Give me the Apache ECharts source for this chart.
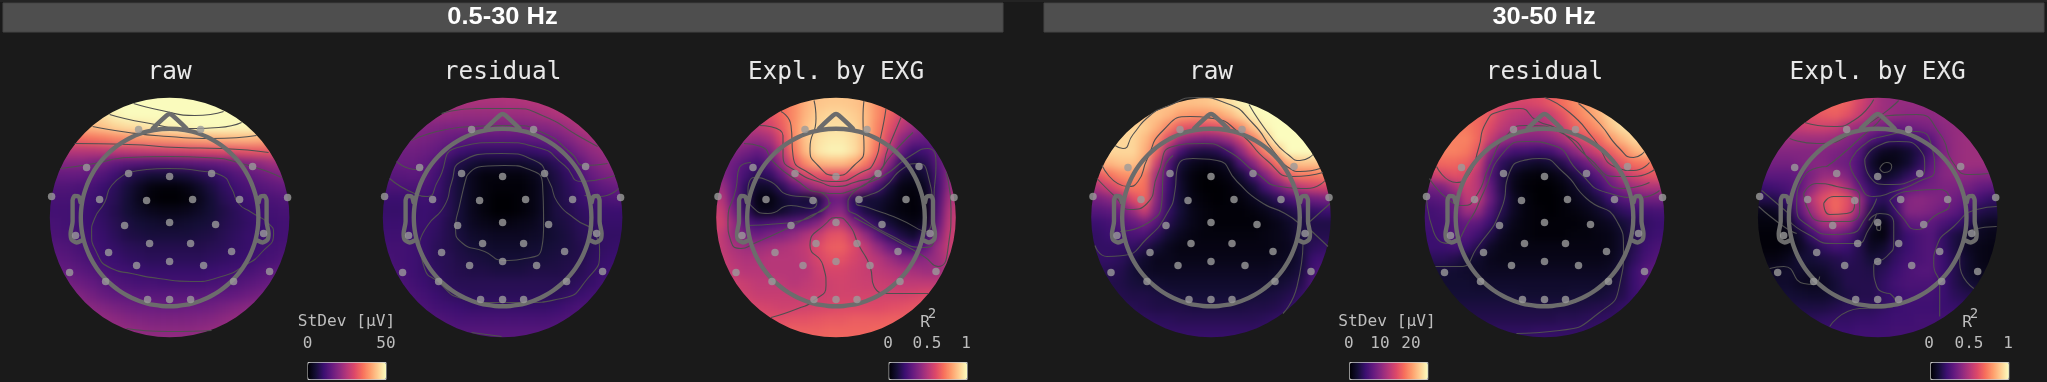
<!DOCTYPE html>
<html><head><meta charset="utf-8">
<style>html,body{margin:0;padding:0;background:#1a1a1a}#c{width:2047px;height:382px}</style>
<script src="https://cdn.jsdelivr.net/npm/echarts@6/dist/echarts.min.js"></script>
</head><body><div id="c"></div>
<script>
// Field values: percent of each colour range on a 22x22 grid (top row first).
const rawLow=[
[92,92,92,94,96,98,100,100,100,100,100,100,100,100,100,100,100,100,98,96,94,92],
[88,88,88,90,92,96,100,100,100,100,100,100,100,100,100,100,100,100,100,98,94,90],
[86,86,86,88,90,94,98,100,100,100,100,100,100,100,100,100,100,100,100,98,94,90],
[78,78,80,84,86,88,91,93,94,96,97,98,99,100,100,100,99,99,98,96,92,90],
[66,66,66,68,70,72,74,76,77,78,79,80,81,82,83,84,85,85,84,82,80,78],
[50,50,50,50,50,51,52,53,54,55,56,57,58,59,60,61,62,63,64,64,62,62],
[38,38,38,38,36,33,29,27,26,25,25,26,27,28,29,31,34,37,40,44,46,46],
[30,30,30,30,28,25,21,15,12,10,10,10,11,14,17,21,25,28,31,34,37,38],
[25,25,25,24,23,20,16,11,6,2,1,1,3,7,12,17,21,24,26,28,30,30],
[23,23,23,22,21,18,15,10,5,1,0,0,1,5,10,15,18,21,23,24,25,25],
[22,22,22,21,20,17,14,10,7,5,4,4,5,7,10,13,16,19,21,22,23,23],
[23,23,22,21,20,18,15,12,10,9,8,8,9,10,11,14,16,18,20,21,22,22],
[24,24,23,22,21,19,16,13,12,11,11,11,11,12,13,15,17,19,20,21,22,22],
[26,26,25,23,22,20,18,16,15,14,14,14,14,14,15,16,18,19,21,22,23,23],
[28,28,27,25,23,21,20,18,17,16,16,16,16,16,17,18,19,20,22,23,25,25],
[31,31,30,28,26,24,22,21,20,19,19,19,19,19,20,21,22,23,25,27,29,29],
[35,35,34,32,30,27,25,24,23,23,22,22,22,22,23,24,25,27,29,31,33,33],
[40,40,39,37,34,31,29,28,27,27,27,27,27,27,28,29,30,32,34,36,38,38],
[44,44,43,41,39,37,35,33,32,32,31,31,32,32,33,35,37,39,41,42,43,43],
[46,46,45,44,43,42,40,38,37,36,36,36,36,37,38,40,42,43,44,45,46,46],
[47,47,47,46,45,44,43,42,41,40,40,40,40,41,42,43,44,45,46,47,47,47],
[47,47,47,47,46,45,44,44,43,43,43,43,43,43,44,44,45,46,47,47,47,47]];
const residualLow=[
[45,45,46,47,48,49,50,50,50,50,50,50,51,51,52,52,52,52,52,52,50,48],
[42,42,43,44,45,46,47,47,47,47,47,48,48,49,50,51,52,52,52,52,50,48],
[40,40,41,42,43,43,43,42,42,42,42,43,43,44,46,48,50,52,53,52,50,48],
[38,38,38,38,38,37,36,36,36,36,36,36,36,37,38,40,44,48,50,50,48,46],
[36,36,36,36,35,33,31,29,28,28,28,28,28,29,30,33,37,42,46,46,46,44],
[33,33,33,33,32,30,25,21,19,18,18,18,18,19,21,25,30,36,41,44,44,42],
[30,30,31,31,29,25,18,13,10,8,8,8,8,10,12,16,22,29,36,40,42,42],
[27,27,27,28,27,22,16,10,5,2,2,2,2,4,8,13,18,24,31,35,37,37],
[24,24,24,24,24,21,15,10,5,2,1,1,1,3,7,12,16,21,26,29,31,31],
[20,20,20,20,21,19,15,10,5,2,0,0,1,3,7,12,15,19,22,24,25,25],
[19,19,19,19,20,19,15,10,5,2,0,0,1,3,7,12,14,17,19,20,20,20],
[20,20,20,20,20,18,14,10,6,4,3,3,4,5,8,11,13,16,18,19,19,19],
[21,21,21,20,19,17,14,11,8,7,6,6,6,7,8,10,12,15,17,18,18,18],
[22,22,22,21,19,16,14,12,10,9,8,8,8,9,10,11,12,14,16,18,19,19],
[23,23,22,21,19,16,15,13,12,11,10,10,10,11,11,12,13,14,17,19,20,20],
[24,24,23,21,19,17,15,14,13,13,12,12,12,13,13,13,14,15,18,20,22,22],
[24,24,24,22,20,18,16,15,15,15,15,15,15,15,15,15,15,17,19,22,23,23],
[25,25,25,24,22,20,18,17,16,16,16,16,16,16,16,16,18,20,22,24,25,25],
[26,26,26,25,24,22,21,20,19,19,19,19,19,19,19,20,22,24,25,26,27,27],
[27,27,27,27,26,25,24,23,23,23,23,23,23,23,23,24,25,26,27,28,28,28],
[28,28,28,28,28,27,27,26,26,26,26,26,26,26,26,27,27,28,28,29,29,29],
[28,28,28,28,28,28,28,28,28,28,28,28,28,28,28,28,28,28,29,29,29,29]];
const explainedLow=[
[60,60,62,64,66,68,72,78,84,88,88,88,88,86,78,72,66,58,52,48,46,46],
[56,56,58,60,62,65,70,76,84,88,89,89,88,85,76,70,62,54,48,44,42,42],
[53,53,54,56,58,62,68,76,85,90,92,92,90,86,76,66,56,50,44,40,40,40],
[50,50,50,50,52,56,65,77,87,92,94,94,92,86,74,62,50,42,36,36,38,38],
[46,46,46,44,42,46,60,75,88,94,96,96,93,85,72,56,40,32,30,32,36,38],
[38,38,38,34,30,36,52,72,86,95,98,98,94,84,68,50,30,20,22,30,38,42],
[35,35,32,26,22,28,44,62,76,84,86,86,82,72,58,38,18,12,15,27,38,44],
[38,38,30,22,15,18,30,48,58,62,62,62,60,54,42,24,8,6,10,24,40,48],
[44,44,30,17,7,8,16,27,38,46,50,50,46,36,22,10,3,2,6,22,42,50],
[50,50,30,16,3,2,8,12,10,12,30,32,16,10,10,6,2,1,4,24,46,54],
[54,54,35,18,5,5,8,12,14,18,36,40,20,12,8,4,2,1,3,26,50,56],
[58,56,42,26,22,24,26,28,32,38,50,52,38,24,16,10,5,3,6,30,52,56],
[58,52,42,34,32,36,38,42,48,54,62,63,54,42,28,18,12,8,18,36,54,56],
[58,52,47,44,44,46,48,50,53,60,65,66,60,52,42,32,25,20,30,44,54,56],
[58,54,50,48,48,50,50,50,52,58,62,62,58,54,50,44,38,38,40,44,52,54],
[58,56,52,50,50,50,50,50,50,55,58,58,56,54,52,50,48,46,44,44,48,50],
[60,58,56,54,52,52,52,50,52,54,56,57,56,55,55,54,52,52,52,52,54,56],
[62,60,58,56,54,54,54,54,54,55,56,57,57,57,57,57,57,58,60,60,60,62],
[64,63,62,60,58,57,56,56,57,58,59,60,60,60,60,61,62,63,64,64,65,66],
[66,65,64,63,62,61,61,62,62,63,64,64,65,65,65,66,66,67,68,68,68,68],
[68,67,66,65,65,65,65,66,66,66,67,67,67,67,68,68,68,69,69,69,69,69],
[68,68,67,67,67,67,67,67,67,68,68,68,68,68,69,69,69,70,70,70,70,70]];
const rawHigh=[
[80,80,82,84,86,86,86,86,86,87,88,90,92,96,100,100,100,100,100,100,96,96],
[82,82,84,86,86,86,87,88,87,87,88,90,94,98,100,100,100,100,100,100,98,98],
[86,86,88,88,88,88,88,85,80,78,78,80,85,92,98,100,100,100,100,100,100,100],
[88,88,90,90,92,90,84,74,64,62,60,62,68,76,88,98,100,100,100,100,100,100],
[90,90,92,92,92,86,76,60,44,38,36,38,44,56,72,86,100,100,100,100,100,100],
[90,90,92,92,92,84,68,40,22,14,12,14,22,40,58,74,86,100,100,100,100,100],
[85,85,85,88,88,82,56,25,10,5,3,4,8,24,38,56,70,84,88,88,88,88],
[62,62,70,76,78,72,44,22,7,2,0,1,3,10,22,36,52,66,72,72,74,74],
[48,48,56,64,72,70,40,20,8,2,0,0,1,4,10,22,32,44,52,56,58,58],
[34,34,38,44,60,68,38,18,9,3,1,0,1,2,5,10,16,22,28,32,34,34],
[26,26,28,32,42,55,34,18,10,4,2,1,1,1,2,4,8,12,16,18,20,20],
[20,20,22,26,30,34,26,14,8,4,2,1,1,1,1,2,4,7,12,13,13,13],
[18,18,20,22,24,24,16,9,5,3,2,2,2,2,2,3,4,6,12,14,14,14],
[18,18,18,18,18,14,9,5,3,3,3,3,3,3,3,3,4,5,11,16,18,18],
[18,18,18,16,12,8,5,5,4,4,4,4,4,4,4,4,5,6,10,20,22,22],
[16,16,15,14,10,7,6,6,6,6,6,6,6,6,6,6,7,8,11,22,26,26],
[15,15,14,13,11,10,9,8,8,8,8,8,8,8,8,8,9,11,14,24,27,27],
[14,14,14,14,13,13,12,11,10,10,10,10,10,10,10,11,12,14,18,24,26,26],
[16,16,16,15,15,14,13,13,13,12,12,12,12,12,13,13,14,17,21,24,25,25],
[18,18,18,17,17,17,16,16,15,15,15,15,15,15,15,16,18,20,22,23,24,24],
[20,20,20,20,20,19,19,18,18,18,18,18,18,18,18,19,20,21,22,22,22,22],
[21,21,21,21,21,21,21,21,20,20,20,20,20,20,20,21,21,22,22,22,22,22]];
const residualHigh=[
[58,58,60,62,62,62,62,62,62,62,62,64,68,74,78,84,90,92,90,88,86,86],
[60,60,62,64,64,64,62,60,58,58,60,64,70,76,80,86,92,94,92,90,88,88],
[64,64,66,68,68,68,64,56,52,50,50,54,62,72,78,84,92,95,94,92,90,90],
[68,68,70,72,72,68,60,52,48,46,46,50,56,66,72,78,88,94,96,94,90,90],
[72,72,74,74,74,68,54,44,40,38,38,40,46,56,62,68,78,86,92,92,90,90],
[74,74,74,74,72,64,40,28,22,22,20,22,30,40,50,58,66,74,84,88,88,88],
[66,66,68,68,66,56,30,16,12,9,7,9,14,24,32,42,54,64,70,72,72,72],
[54,54,58,62,60,50,26,14,5,2,1,2,5,12,20,28,38,50,58,62,64,64],
[34,34,36,46,56,50,30,14,4,1,0,0,2,6,12,20,30,38,44,48,48,48],
[26,26,28,32,52,52,32,16,6,2,0,0,1,4,7,12,20,26,30,33,33,33],
[22,22,24,30,44,42,26,14,6,2,1,0,1,2,4,7,12,17,20,22,23,23],
[22,22,22,26,30,28,20,10,4,2,1,1,1,1,2,4,6,10,14,18,20,20],
[20,20,22,26,26,21,13,6,3,2,1,1,1,2,2,3,4,8,14,19,21,21],
[20,20,20,22,20,14,7,4,3,3,3,3,3,3,3,3,4,8,15,21,24,24],
[16,16,16,14,10,8,5,4,4,4,4,4,4,4,4,4,5,9,17,23,26,26],
[10,10,10,9,8,7,6,6,6,6,6,6,6,6,6,6,7,12,20,27,29,29],
[9,9,9,9,9,8,8,8,8,8,8,8,8,8,8,8,9,13,20,26,28,28],
[10,10,10,10,10,10,10,10,10,9,9,9,9,10,10,10,12,14,20,24,24,24],
[12,12,12,12,12,12,12,12,12,12,12,12,12,12,13,14,15,18,20,22,22,22],
[14,14,14,14,14,14,14,14,14,14,14,14,15,15,16,17,18,19,20,20,20,20],
[16,16,16,16,16,16,17,17,17,17,18,18,18,18,18,19,19,19,19,19,19,19],
[18,18,18,18,18,18,18,18,18,19,19,19,19,19,19,19,19,19,19,19,19,19]];
const explainedHigh=[
[66,66,66,66,66,66,67,67,66,60,50,44,42,42,42,42,42,42,42,42,42,42],
[64,64,64,64,64,66,68,68,66,58,50,44,42,42,42,42,42,42,42,42,42,42],
[60,60,60,60,60,62,64,66,62,54,46,44,42,40,40,40,42,42,42,42,42,42],
[52,52,52,52,54,56,56,54,46,42,38,34,30,32,34,36,40,42,43,43,43,43],
[44,44,44,44,44,44,44,42,38,34,26,20,18,20,22,28,38,42,44,44,44,44],
[38,38,38,38,38,38,38,36,34,26,12,6,5,8,14,24,36,42,44,44,44,44],
[34,34,34,34,36,38,38,34,32,24,8,2,4,8,16,28,38,42,44,44,44,44],
[28,28,28,28,30,36,42,42,36,24,12,6,10,16,24,32,38,40,40,38,38,38],
[20,20,22,24,28,40,52,56,46,28,18,14,20,28,32,34,36,36,34,30,28,28],
[14,14,14,20,32,50,62,68,62,44,20,16,22,38,40,38,36,32,28,22,18,18],
[4,4,6,12,28,44,58,68,60,40,14,10,20,38,38,36,32,28,22,14,12,12],
[2,2,2,6,18,32,46,48,44,26,8,3,14,28,30,28,24,20,16,8,6,6],
[1,1,1,2,8,20,30,34,28,16,4,2,14,20,24,26,18,12,8,6,4,4],
[1,1,1,2,6,12,18,22,20,14,6,8,16,20,24,26,18,12,6,4,3,3],
[3,3,3,5,10,10,12,14,16,14,10,12,18,22,24,26,20,14,8,4,3,3],
[6,6,7,8,8,7,8,12,14,14,13,16,20,24,26,26,20,14,8,5,4,4],
[8,8,8,8,6,5,6,10,14,14,14,18,22,24,24,24,20,14,10,8,8,8],
[10,10,10,10,9,8,8,10,12,14,14,18,20,22,22,22,20,16,14,14,14,14],
[12,12,12,12,12,12,12,14,16,16,16,18,20,21,21,21,20,19,18,18,18,18],
[16,16,16,16,16,16,17,18,18,19,19,20,21,21,22,22,22,22,21,21,21,21],
[19,19,19,19,19,19,20,20,20,21,21,21,22,22,22,22,22,22,22,22,22,22],
[20,20,20,20,20,20,21,21,21,22,22,22,22,22,22,22,22,22,22,22,22,22]];

// Head-centred coordinates in millimetres (y up).
const electrodes=[[-31,88],[31,88],[-83,50],[-41,44],[0,41],[42,44],[83,51],[-118,21],[118,20],[-70,18],[-23,17],[23,18],[70,18],[-45,-8],[0,-5],[46,-7],[-94,-18],[94,-16],[-20,-26],[21,-26],[-61,-35],[62,-34],[0,-44],[-33,-48],[34,-48],[-100,-55],[100,-54],[-64,-64],[64,-64],[-22,-82],[0,-82],[21,-82]];
const headRadius=88.8;
const noseLine=[[-17,89],[-3,102],[0,103.5],[3,102],[17,89]];
const earLine=[[-89,15],[-91,21],[-95,21.5],[-97,17],[-97,-4],[-99,-16],[-98,-22],[-93,-25],[-88,-23]];

// Contour lines, in the same millimetres.
const rawLowContours=[
[[-36,114],[-8,107],[25,102],[54,106]],
[[-60,103],[-25,95],[22,89],[49,90],[72,95]],
[[-77,91],[-41,85],[-1,81],[42,79],[87,82]],
[[-95,74],[-41,73],[9,70],[52,69],[99,65]],
[[-109,49],[-75,54],[-41,60],[-1,61],[35,60],[72,54],[112,40]],
[[-41,45],[-1,49],[35,46],[52,42],[62,29],[69,14],[82,5],[99,-6],[104,-16],[92,-35],[75,-48],[52,-59],[22,-64],[-11,-61],[-38,-56],[-58,-51],[-73,-35],[-78,-15],[-75,-1],[-65,15],[-58,32],[-41,45]],
[[-43,-111],[-1,-114],[42,-113]]];
const residualLowContours=[
[[-61,104],[-25,109],[9,109],[42,101],[75,82],[95,71]],
[[-91,77],[-31,91],[9,92],[42,84],[69,64],[82,52],[105,54]],
[[-106,56],[-86,48],[-79,51]],
[[-113,39],[-88,24],[-75,21],[-65,36],[-45,70],[-1,75],[35,70],[62,52],[79,36],[112,42]],
[[-83,-24],[-75,-8],[-58,12],[-51,35],[-43,55],[-1,64],[32,57],[47,35],[55,15],[72,-1],[92,-16],[97,-35],[85,-61],[59,-81],[22,-85],[-15,-85],[-41,-81],[-65,-64],[-78,-51],[-83,-24]],
[[-36,41],[-21,51],[2,52],[29,47],[40,32],[41,-8],[39,-31],[22,-41],[2,-43],[-18,-34],[-41,-25],[-47,-11],[-43,12],[-36,41]],
[[82,22],[97,21],[116,29]],
[[-31,-115],[-1,-119]]];
const explainedLowContours=[
[[-22,117],[-20,99],[-26,69],[-18,52],[0,42],[18,52],[28,69],[27,99],[28,117]],
[[-55,106],[-45,92],[-43,62],[-28,45],[0,36],[25,45],[38,55],[45,82],[50,109]],
[[-77,92],[-53,82],[-53,62],[-38,45],[-15,35],[0,31],[18,35],[42,45],[52,69],[65,100]],
[[-92,74],[-75,71],[-62,55],[-42,39],[-15,25],[0,24],[15,27],[38,40],[55,62],[77,85]],
[[-85,55],[-97,49],[-100,29],[-108,-4],[-105,-24],[-95,-31],[-82,-26],[-45,-9],[-25,2],[-10,9],[-7,15],[-15,25]],
[[-88,29],[-82,40],[-68,37],[-45,22],[-25,20],[-19,16],[-25,9],[-45,12],[-68,4],[-83,10],[-88,22],[-88,29]],
[[-90,-8],[-55,-6],[-35,-3],[-12,9],[-5,15]],
[[20,19],[32,22],[48,30],[67,49],[82,54],[92,42],[96,12],[90,-14],[62,-1],[32,10],[20,15],[20,19]],
[[12,17],[22,29],[48,42],[75,62],[92,69],[100,52],[98,19],[98,-21],[88,-30],[55,-18],[22,2],[12,10],[12,17]],
[[18,0],[62,-24],[88,-39],[102,-49],[112,-31],[115,9],[110,45]],
[[-65,-100],[-38,-91],[-22,-83],[-10,-68],[-13,-48],[-26,-28],[-8,-4],[0,0],[12,-6],[23,-28],[34,-49],[38,-69],[55,-76],[92,-76]]];
const rawHighContours=[
[[38,113],[62,78],[77,63],[89,57],[102,63]],
[[-96,72],[-88,69],[-78,83],[-61,102],[-44,111],[-14,120],[16,114],[42,94],[62,67],[79,49],[89,46],[109,49]],
[[-109,52],[-83,31],[-73,36],[-64,58],[-48,87],[-21,101],[2,99],[29,84],[56,57],[82,41],[112,45]],
[[-114,39],[-96,21],[-81,8],[-64,14],[-53,44],[-38,71],[-8,74],[16,67],[46,44],[69,31],[96,29],[114,37]],
[[-116,-28],[-104,-39],[-88,-38],[-64,-21],[-44,4],[-36,27],[-34,48],[-18,59],[6,57],[26,36],[49,16],[74,4],[87,-5]],
[[-91,-14],[-64,-6],[-49,18],[-48,44],[-38,62]],
[[99,-4],[119,14]],
[[99,-12],[117,-29]],
[[92,-26],[86,-69],[72,-96]]];
const residualHighContours=[
[[34,114],[55,94],[75,69],[89,60],[100,66]],
[[0,120],[25,105],[49,79],[72,50],[89,47],[105,55]],
[[-108,51],[-88,35],[-75,44],[-66,69],[-59,94],[-45,106],[-25,109],[-8,97],[15,87],[45,59],[72,41],[89,41],[110,48]],
[[-115,39],[-95,17],[-81,12],[-68,22],[-55,52],[-38,82],[-18,92],[22,82],[52,49],[79,29],[105,35]],
[[-118,22],[-111,-14],[-95,-26],[-75,-3],[-61,25],[-41,65],[-18,76],[9,72],[35,45],[62,25],[95,20],[115,27]],
[[-109,-49],[-84,-49],[-68,-31],[-43,9],[-35,45],[-21,57],[-5,59],[19,45],[42,19],[72,-3],[79,-31],[75,-68],[55,-95],[15,-113],[-28,-116]]];
const explainedHighContours=[
[[-73,95],[-44,91],[-24,97],[-4,118]],
[[-88,79],[-61,74],[-21,87],[21,117]],
[[-51,51],[-38,61],[-4,91],[12,102],[39,103],[62,84],[76,54],[92,43],[111,44]],
[[-28,54],[-16,71],[9,82],[39,86],[54,71],[57,48],[41,36],[16,26],[-4,21],[-21,38],[-28,54]],
[[-13,58],[-1,71],[21,76],[42,68],[47,51],[39,39],[11,33],[-8,41],[-13,58]],
[[2,49],[9,55],[14,51],[7,45],[2,49]],
[[-54,14],[-44,21],[-28,21],[-23,14],[-31,4],[-48,3],[-54,14]],
[[-74,24],[-61,34],[-41,31],[-18,21],[-18,7],[-31,-4],[-54,-4],[-71,11],[-74,24]],
[[-1,19],[-11,1],[-28,-16],[-44,-17],[-68,-9],[-81,11],[-74,41],[-51,51]],
[[-89,-3],[-71,-16],[-44,-26],[-21,-26],[-9,-12],[-1,4]],
[[-1,-6],[3,-9],[2,-13],[-1,-11],[-1,-6]],
[[-9,-3],[2,4],[16,-6],[16,-26],[9,-39],[-4,-49],[-1,-69],[12,-76]],
[[-48,-109],[-18,-91],[12,-90],[18,-85],[12,-76]],
[[12,17],[29,26],[62,28],[72,14],[56,1],[39,-12],[24,1],[12,17]],
[[119,11],[99,8],[76,-9],[59,-29],[56,-46],[62,-69],[62,-99]],
[[119,-9],[95,-12],[86,-26],[82,-46],[96,-71]],
[[-108,-51],[-94,-49],[-74,-66],[-64,-67],[-58,-59]],
[[-119,11],[-94,-9],[-81,-16]],
[[-116,27],[-89,4]]];

const bandTitles=['0.5-30 Hz','30-50 Hz'];
const mapTitles=['raw','residual','Expl. by EXG','raw','residual','Expl. by EXG'];
const stdevLowTicks=[0,50], r2Ticks=[0,0.5,1], stdevHighTicks=[0,10,20];
const magma=['#000004','#140e36','#3b0f70','#641a80','#8c2981','#b73779','#de4968','#f7705c','#fe9f6d','#fecf92','#fcfdbf'];

const BG='#1a1a1a',MONO='"DejaVu Sans Mono",monospace';
const panels=[
 {cx:169.6,field:rawLow,max:50,lines:rawLowContours},
 {cx:502.6,field:residualLow,max:50,lines:residualLowContours},
 {cx:836,field:explainedLow,max:1,lines:explainedLowContours},
 {cx:1211,field:rawHigh,max:25,lines:rawHighContours},
 {cx:1544.5,field:residualHigh,max:25,lines:residualHighContours},
 {cx:1877.7,field:explainedHigh,max:1,lines:explainedHighContours}];
const CY=217.5,HALF=132,RIM=119.8,CELLS=22;
const cats=[...Array(CELLS).keys()];
const grid=[],xAxis=[],yAxis=[],heat=[],over=[];
const brk=['-','-'];
const joined=ls=>ls.flatMap((l,i)=>i?[brk,...l]:l);
const circle=[];for(let a=0;a<=72;a++){const t=a*Math.PI/36;circle.push([headRadius*Math.cos(t),headRadius*Math.sin(t)]);}
const outline=[circle,noseLine,earLine,earLine.map(p=>[-p[0],p[1]])];
panels.forEach((p,i)=>{
 grid.push({left:p.cx-HALF,top:CY-HALF,width:2*HALF,height:2*HALF});
 xAxis.push({type:'category',data:cats,gridIndex:i,show:false});
 yAxis.push({type:'category',data:cats,gridIndex:i,show:false,inverse:true});
 xAxis.push({type:'value',min:-HALF,max:HALF,gridIndex:i,show:false});
 yAxis.push({type:'value',min:-HALF,max:HALF,gridIndex:i,show:false});
 const data=[];p.field.forEach((r,y)=>r.forEach((v,x)=>data.push([x,y,v/100*p.max])));
 heat.push({type:'heatmap',xAxisIndex:2*i,yAxisIndex:2*i,data,zlevel:0,silent:true,progressive:0,itemStyle:{borderWidth:0}});
 const ax={xAxisIndex:2*i+1,yAxisIndex:2*i+1,zlevel:1,silent:true,animation:false};
 over.push({type:'line',...ax,z:3,data:joined(p.lines),smooth:0.6,showSymbol:false,symbol:'none',lineStyle:{color:'#505050',width:1.1}});
 over.push({type:'line',...ax,z:4,data:joined(outline),smooth:0.25,showSymbol:false,symbol:'none',lineStyle:{color:'#6c6c6c',width:4.4,cap:'round',join:'round'}});
 over.push({type:'scatter',...ax,z:5,data:electrodes,symbolSize:7.5,itemStyle:{color:'#9b9b9b'}});
});
const vm=(seriesIndex,max,left)=>({type:'continuous',seriesIndex,min:0,max,orient:'horizontal',left,top:362,itemWidth:17,itemHeight:78,padding:0,calculable:false,hoverLink:false,inRange:{color:magma},borderColor:'#c8c8c8',borderWidth:1,zlevel:1});
const txt=(t,x,y,font,fill,extra)=>({type:'text',zlevel:1,z:20,silent:true,x,y,...(extra||{}),style:{text:t,x:0,y:0,font,fill,textAlign:'center',textVerticalAlign:'middle'}});
const tickFont='16px '+MONO,tickFill='#bdbdbd';
const graphic=[
 {type:'rect',zlevel:1,z:1,silent:true,shape:{x:0,y:0,width:2047,height:2},style:{fill:'#232323'}},
 {type:'rect',zlevel:1,z:1,silent:true,shape:{x:3,y:3,width:1000,height:29},style:{fill:'#4e4e4e',stroke:'#454545',lineWidth:1}},
 {type:'rect',zlevel:1,z:1,silent:true,shape:{x:1044,y:3,width:1000,height:29},style:{fill:'#4e4e4e',stroke:'#454545',lineWidth:1}},
 txt(bandTitles[0],502.5,17,'bold 24px "Liberation Sans"','#ffffff',{scaleX:1.06}),
 txt(bandTitles[1],1544,17,'bold 24px "Liberation Sans"','#ffffff',{scaleX:1.06}),
 ...panels.map((p,i)=>txt(mapTitles[i],p.cx,73,'24.4px '+MONO,'#e8e8e8')),
 txt('StDev [µV]',346.5,322,'16.2px '+MONO,tickFill),
 txt('StDev [µV]',1387,322,'16.2px '+MONO,tickFill),
 txt('R',925,322.5,'16.2px '+MONO,tickFill),txt('2',932,314,'14px '+MONO,tickFill),
 txt('R',1967,322.5,'16.2px '+MONO,tickFill),txt('2',1974,314,'14px '+MONO,tickFill),
 ...stdevLowTicks.map((t,i)=>txt(String(t),[307.5,386][i],344,tickFont,tickFill)),
 ...r2Ticks.map((t,i)=>txt(String(t),[888,927,966][i],344,tickFont,tickFill)),
 ...stdevHighTicks.map((t,i)=>txt(String(t),[1348.7,1380,1411][i],344,tickFont,tickFill)),
 ...r2Ticks.map((t,i)=>txt(String(t),[1929,1969,2008][i],344,tickFont,tickFill))
];
const chart=echarts.init(document.getElementById('c'),null,{renderer:'canvas',width:2047,height:382});
chart.setOption({animation:false,backgroundColor:BG,grid,xAxis,yAxis,
 visualMap:[vm([0,1],50,307.5),vm([2],1,888.6),vm([3,4],25,1349.3),vm([5],1,1930.3)],
 series:[...heat,...over],graphic:{elements:graphic}});
// The field layer is a separate canvas: soften its cells and trim it to each scalp disc.
const base=document.querySelector('#c canvas[data-zr-dom-id="zr_0"]');
if(base){
 const d=panels.map(p=>`M${p.cx-RIM} ${CY}A${RIM} ${RIM} 0 1 0 ${p.cx+RIM} ${CY}A${RIM} ${RIM} 0 1 0 ${p.cx-RIM} ${CY}Z`).join('');
 base.style.filter='blur(4.5px)';
 base.style.clipPath=`path('${d}')`;
}
</script></body></html>
